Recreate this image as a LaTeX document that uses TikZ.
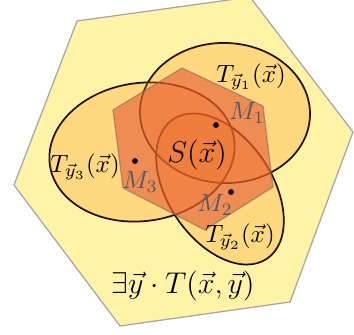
\documentclass[tikz,border=0pt]{standalone}
\definecolor{RegionYellow}{HTML}{FFF4A6}
\definecolor{EllOrange}{HTML}{FF8C10}
\definecolor{HexOrange}{rgb}{0.9,0.35,0.2}
\definecolor{LabelSlate}{HTML}{4C5A6B}
\usepackage{amsmath,amssymb}
\usepackage{tikz}
\tikzset{
    % Outer region style
    outerregion/.style={
        fill=RegionYellow,
        draw=black!35,
        line width=0.5pt
    },
    % Ellipse fill style
    ellfill/.style={
        fill=EllOrange,
        fill opacity=0.25
    },
    % Ellipse outline style
    ellline/.style={
        draw=black,
        line width=0.7pt
    },
    % Inner hexagon style
    innerhex/.style={
        fill=HexOrange,
        fill opacity=0.6,
        draw=black!60,
        draw opacity=0.5,
        line width=0.5pt
    },
    % Point style
    pointdot/.style={
        circle,
        fill=black,
        inner sep=0pt,
        minimum size=2.3pt
    },
    % Point label style
    mlabel/.style={
        text=LabelSlate,
        inner sep=1pt
    },
    % Set label style
    tlabel/.style={
        inner sep=1pt
    }
}

\begin{document}
\begin{tikzpicture}[x=0.4pt, y=0.4pt]
    \useasboundingbox (0,0) rectangle (354,334);

    % outer region
    \draw[outerregion] (77,313) -- (250,337) -- (353,202) -- (290,32)
        -- (120,8) -- (14,149) -- cycle;

    % the three sets T_y, outlines first, then fills
    \foreach \cx/\cy/\ra/\rb/\rot in {225/221/85/70/-2, 142/182/93/69/8, 220/145/84/52/-56}
        \draw[ellline] (\cx,\cy) ellipse [x radius=\ra, y radius=\rb, rotate=\rot];
    \foreach \cx/\cy/\ra/\rb/\rot in {225/221/85/70/-2, 142/182/93/69/8, 220/145/84/52/-56}
        \fill[ellfill] (\cx,\cy) ellipse [x radius=\ra, y radius=\rb, rotate=\rot];

    % inner region S
    \draw[innerhex] (182,266) -- (263,228) -- (273,147) -- (205,104)
        -- (123,146) -- (113,224) -- cycle;

    % points
    \node[pointdot] (m1) at (216,209) {};
    \node[pointdot] (m2) at (231,142) {};
    \node[pointdot] (m3) at (135,173) {};
    \node[mlabel] (m1lab) at (247,221) {$M_1$};
    \node[mlabel] (m2lab) at (215,129) {$M_2$};
    \node[mlabel] (m3lab) at (140,152) {$M_3$};

    % labels
    \node[tlabel, font=\large] (s) at (197,179) {$S(\vec{x})$};
    \node[tlabel] (t1) at (251,257) {$T_{\vec{y}_1}(\vec{x})$};
    \node[tlabel] (t2) at (240,97) {$T_{\vec{y}_2}(\vec{x})$};
    \node[tlabel] (t3) at (85,167) {$T_{\vec{y}_3}(\vec{x})$};
    \node[tlabel, font=\large] (ex) at (183,48) {$\exists\vec{y}\cdot T(\vec{x},\vec{y})$};
\end{tikzpicture}
\end{document}
